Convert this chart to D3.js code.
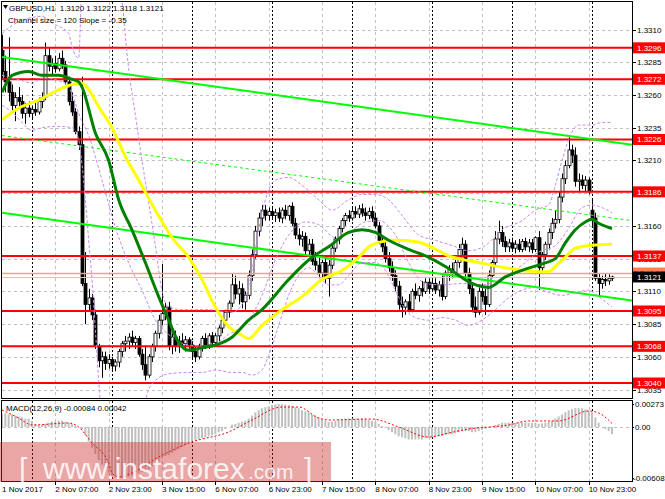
<!DOCTYPE html>
<html><head><meta charset="utf-8">
<script src="https://cdn.jsdelivr.net/npm/d3@7"></script>
<style>body{margin:0;background:#fff}svg{display:block}text{font-family:'Liberation Sans',Arial,sans-serif}</style>
</head><body><svg id="c" width="665" height="499"></svg>
<script>
// ---------------- DATA ----------------
const symbolTitle = "GBPUSD,H1";
const lastQuote = ["1.3120", "1.3122", "1.3118", "1.3121"];
const channelText = "Channel size = 120 Slope = -0.35";
const macdTitle = "MACD(12,26,9) -0.00084 0.00042";

const opens = [
1.3294,1.3278,1.3270,1.3262,1.3252,1.3258,1.3255,1.3246,1.3250,1.3246,
1.3249,1.3247,1.3255,1.3258,1.3290,1.3282,1.3284,1.3280,1.3288,1.3283,
1.3270,1.3255,1.3247,1.3232,1.3222,1.3116,1.3100,1.3105,1.3092,1.3068,
1.3057,1.3060,1.3055,1.3058,1.3053,1.3056,1.3064,1.3070,1.3072,1.3075,
1.3071,1.3074,1.3062,1.3054,1.3046,1.3060,1.3068,1.3078,1.3088,1.3093,
1.3098,1.3068,1.3075,1.3068,1.3072,1.3070,1.3073,1.3069,1.3064,1.3060,
1.3067,1.3074,1.3069,1.3076,1.3071,1.3076,1.3082,1.3088,1.3094,1.3101,
1.3115,1.3108,1.3112,1.3102,1.3107,1.3122,1.3138,1.3156,1.3166,1.3172,
1.3168,1.3171,1.3168,1.3170,1.3166,1.3172,1.3168,1.3175,1.3162,1.3153,
1.3150,1.3152,1.3141,1.3146,1.3133,1.3130,1.3124,1.3132,1.3120,1.3130,
1.3143,1.3150,1.3158,1.3164,1.3168,1.3166,1.3171,1.3169,1.3173,1.3170,
1.3168,1.3171,1.3166,1.3160,1.3149,1.3144,1.3135,1.3128,1.3122,1.3114,
1.3100,1.3098,1.3102,1.3096,1.3110,1.3107,1.3112,1.3110,1.3117,1.3112,
1.3116,1.3111,1.3115,1.3106,1.3124,1.3127,1.3124,1.3132,1.3142,1.3146,
1.3124,1.3112,1.3098,1.3094,1.3110,1.3106,1.3100,1.3122,1.3132,1.3150,
1.3155,1.3148,1.3144,1.3147,1.3143,1.3146,1.3142,1.3148,1.3144,1.3147,
1.3142,1.3151,1.3128,1.3138,1.3146,1.3155,1.3162,1.3165,1.3182,1.3196,
1.3206,1.3218,1.3214,1.3194,1.3195,1.3191,1.3195,1.3172,1.3166,1.3120,
1.3116,1.3119,1.3118,1.3120];
const highs = [
1.3306,1.3290,1.3304,1.3268,1.3262,1.3266,1.3260,1.3254,1.3255,1.3252,
1.3254,1.3258,1.3262,1.3300,1.3296,1.3288,1.3290,1.3292,1.3294,1.3286,
1.3274,1.3262,1.3250,1.3236,1.3274,1.3140,1.3112,1.3108,1.3096,1.3070,
1.3064,1.3064,1.3062,1.3060,1.3058,1.3066,1.3072,1.3076,1.3078,1.3080,
1.3076,1.3076,1.3066,1.3068,1.3062,1.3070,1.3080,1.3092,1.3131,1.3101,
1.3102,1.3078,1.3080,1.3076,1.3078,1.3076,1.3075,1.3072,1.3068,1.3070,
1.3076,1.3078,1.3078,1.3079,1.3078,1.3084,1.3090,1.3096,1.3103,1.3124,
1.3122,1.3118,1.3116,1.3110,1.3126,1.3142,1.3160,1.3170,1.3176,1.3176,
1.3174,1.3175,1.3173,1.3174,1.3174,1.3176,1.3176,1.3178,1.3166,1.3158,
1.3156,1.3155,1.3150,1.3150,1.3140,1.3136,1.3134,1.3136,1.3134,1.3146,
1.3152,1.3160,1.3166,1.3170,1.3172,1.3174,1.3175,1.3176,1.3177,1.3174,
1.3174,1.3175,1.3170,1.3163,1.3153,1.3148,1.3140,1.3133,1.3126,1.3118,
1.3106,1.3104,1.3108,1.3112,1.3116,1.3114,1.3118,1.3120,1.3120,1.3119,
1.3120,1.3118,1.3122,1.3126,1.3130,1.3132,1.3134,1.3146,1.3151,1.3149,
1.3128,1.3116,1.3106,1.3113,1.3116,1.3112,1.3126,1.3134,1.3156,1.3164,
1.3160,1.3152,1.3150,1.3151,1.3149,1.3150,1.3150,1.3151,1.3150,1.3150,
1.3152,1.3156,1.3140,1.3148,1.3158,1.3166,1.3172,1.3186,1.3200,1.3210,
1.3229,1.3222,1.3220,1.3200,1.3199,1.3198,1.3197,1.3180,1.3170,1.3124,
1.3122,1.3124,1.3123,1.3122];
const lows = [
1.3272,1.3262,1.3255,1.3248,1.3240,1.3250,1.3242,1.3238,1.3243,1.3242,
1.3244,1.3245,1.3250,1.3256,1.3278,1.3276,1.3277,1.3278,1.3280,1.3268,
1.3252,1.3244,1.3230,1.3218,1.3114,1.3085,1.3095,1.3088,1.3066,1.3052,
1.3044,1.3050,1.3051,1.3050,1.3049,1.3052,1.3060,1.3064,1.3066,1.3068,
1.3066,1.3060,1.3050,1.3042,1.3044,1.3056,1.3064,1.3074,1.3084,1.3088,
1.3065,1.3062,1.3064,1.3063,1.3066,1.3064,1.3066,1.3058,1.3056,1.3058,
1.3064,1.3066,1.3066,1.3068,1.3069,1.3072,1.3078,1.3084,1.3090,1.3098,
1.3104,1.3100,1.3097,1.3096,1.3104,1.3118,1.3135,1.3152,1.3160,1.3164,
1.3164,1.3165,1.3163,1.3163,1.3162,1.3165,1.3164,1.3160,1.3150,1.3145,
1.3144,1.3138,1.3137,1.3130,1.3126,1.3120,1.3118,1.3116,1.3106,1.3127,
1.3140,1.3146,1.3155,1.3160,1.3163,1.3164,1.3166,1.3166,1.3167,1.3164,
1.3165,1.3163,1.3158,1.3146,1.3140,1.3132,1.3125,1.3118,1.3110,1.3096,
1.3090,1.3092,1.3094,1.3094,1.3104,1.3102,1.3106,1.3108,1.3108,1.3110,
1.3108,1.3106,1.3103,1.3104,1.3118,1.3120,1.3122,1.3128,1.3136,1.3120,
1.3108,1.3094,1.3090,1.3092,1.3102,1.3092,1.3098,1.3120,1.3130,1.3146,
1.3144,1.3140,1.3140,1.3140,1.3139,1.3140,1.3140,1.3141,1.3140,1.3139,
1.3140,1.3111,1.3124,1.3134,1.3142,1.3150,1.3158,1.3162,1.3178,1.3192,
1.3204,1.3208,1.3190,1.3186,1.3188,1.3186,1.3184,1.3160,1.3118,1.3106,
1.3112,1.3114,1.3115,1.3118];
const closes = [
1.3278,1.3270,1.3262,1.3252,1.3258,1.3255,1.3246,1.3250,1.3246,1.3249,
1.3247,1.3255,1.3258,1.3290,1.3282,1.3284,1.3280,1.3288,1.3283,1.3270,
1.3255,1.3247,1.3232,1.3222,1.3116,1.3100,1.3105,1.3092,1.3068,1.3057,
1.3060,1.3055,1.3058,1.3053,1.3056,1.3064,1.3070,1.3072,1.3075,1.3071,
1.3074,1.3062,1.3054,1.3046,1.3060,1.3068,1.3078,1.3088,1.3093,1.3098,
1.3068,1.3075,1.3068,1.3072,1.3070,1.3073,1.3069,1.3064,1.3060,1.3067,
1.3074,1.3069,1.3076,1.3071,1.3076,1.3082,1.3088,1.3094,1.3101,1.3115,
1.3108,1.3112,1.3102,1.3107,1.3122,1.3138,1.3156,1.3166,1.3172,1.3168,
1.3171,1.3168,1.3170,1.3166,1.3172,1.3168,1.3175,1.3162,1.3153,1.3150,
1.3152,1.3141,1.3146,1.3133,1.3130,1.3124,1.3132,1.3120,1.3130,1.3143,
1.3150,1.3158,1.3164,1.3168,1.3166,1.3171,1.3169,1.3173,1.3170,1.3168,
1.3171,1.3166,1.3160,1.3149,1.3144,1.3135,1.3128,1.3122,1.3114,1.3100,
1.3098,1.3102,1.3096,1.3110,1.3107,1.3112,1.3110,1.3117,1.3112,1.3116,
1.3111,1.3115,1.3106,1.3124,1.3127,1.3124,1.3132,1.3142,1.3146,1.3124,
1.3112,1.3098,1.3094,1.3110,1.3106,1.3100,1.3122,1.3132,1.3150,1.3155,
1.3148,1.3144,1.3147,1.3143,1.3146,1.3142,1.3148,1.3144,1.3147,1.3142,
1.3151,1.3128,1.3138,1.3146,1.3155,1.3162,1.3165,1.3182,1.3196,1.3206,
1.3218,1.3214,1.3194,1.3195,1.3191,1.3195,1.3186,1.3166,1.3120,1.3116,
1.3119,1.3118,1.3120,1.3121];

// time axis: bar index of each label, and label text
const timeLabelBars = [0,16,32,48,64,80,96,112,128,144,160,176];
const timeLabels = ["1 Nov 2017","2 Nov 07:00","2 Nov 23:00","3 Nov 15:00","6 Nov 07:00","6 Nov 23:00",
  "7 Nov 15:00","8 Nov 07:00","8 Nov 23:00","9 Nov 15:00","10 Nov 07:00","10 Nov 23:00"];
const daySeparatorBars = [9,33,57,81,105,129,153,177];

// price axis
const priceTicks = [1.3310,1.3285,1.3260,1.3235,1.3210,1.3185,1.3160,1.3135,1.3110,1.3085,1.3060,1.3035];
const levels = [1.3296,1.3272,1.3226,1.3186,1.3137,1.3095,1.3068,1.3040];
const bidPrice = 1.3121;
const askPrice = 1.3124;

// regression channel (bar index, price)
const channelUpper = [[0,1.3289],[189,1.3222]];
const channelMid   = [[0,1.3229],[189,1.3164]];
const channelLower = [[0,1.3170],[189,1.3103]];

// moving averages (bar index, price)
const maFast = [[0,1.3262],[3,1.3275],[8,1.3278],[12,1.3275],[17,1.3275],[21,1.3272],[23,1.3270],[24,1.3266],
 [28,1.3231],[32,1.3210],[35,1.3180],[39,1.3157],[43,1.3132],[47,1.3106],[50,1.3088],[53,1.3071],[56,1.3065],
 [60,1.3067],[64,1.3069],[69,1.3075],[74,1.3088],[78,1.3096],[86,1.3119],[93,1.3136],[98,1.3144],[104,1.3155],
 [108,1.3157],[112,1.3155],[116,1.3149],[122,1.3142],[128,1.3136],[133,1.3129],[136,1.3124],[141,1.3116],
 [146,1.3113],[151,1.3121],[156,1.3126],[162,1.3131],[166,1.3135],[169,1.3147],[172,1.3157],[175,1.3163],
 [177,1.3165],[179,1.3162],[183,1.3158]];
const maSlow = [[0,1.3241],[5,1.3250],[11,1.3256],[17,1.3264],[21,1.3268],[24,1.3269],[26,1.3264],[29,1.3251],
 [33,1.3235],[37,1.3213],[41,1.3195],[46,1.3172],[51,1.3151],[56,1.3136],[60,1.3119],[64,1.3098],[68,1.3083],
 [71,1.3078],[74,1.3074],[78,1.3084],[84,1.3096],[90,1.3106],[96,1.3119],[102,1.3126],[107,1.3136],[110,1.3144],
 [114,1.3148],[118,1.3149],[124,1.3148],[131,1.3141],[134,1.3137],[137,1.3135],[143,1.3132],[151,1.3128],
 [161,1.3125],[164,1.3125],[166,1.3129],[169,1.3136],[172,1.3143],[176,1.3145],[183,1.3146]];

// envelope bands (bar index, price)
const bandUpper = [[0,1.3307],[3,1.3313],[6,1.3317],[12,1.3320],[15,1.3315],[20,1.3307],[21,1.3297],[23,1.3288],
 [24,1.3345],[30,1.3380],[35,1.3345],[36,1.3333],[37,1.3305],[38,1.3280],[40,1.3245],[42,1.3210],[44,1.3178],
 [46,1.3145],[48,1.3110],[50,1.3098],[54,1.3096],[62,1.3096],[69,1.3094],[72,1.3100],[75,1.3126],[77,1.3157],
 [79,1.3180],[82,1.3195],[86,1.3197],[90,1.3191],[95,1.3180],[99,1.3172],[104,1.3180],[108,1.3184],[112,1.3184],
 [116,1.3180],[120,1.3168],[125,1.3153],[130,1.3149],[135,1.3145],[140,1.3141],[145,1.3145],[150,1.3157],
 [156,1.3164],[160,1.3172],[164,1.3176],[166,1.3191],[168,1.3210],[170,1.3226],[173,1.3237],[177,1.3237],
 [180,1.3239],[183,1.3239]];
const bandMid = [[0,1.3275],[6,1.3271],[9,1.3269],[12,1.3273],[19,1.3269],[21,1.3261],[23,1.3246],[26,1.3229],
 [30,1.3195],[34,1.3159],[39,1.3126],[42,1.3111],[46,1.3088],[50,1.3077],[56,1.3069],[62,1.3068],[68,1.3077],
 [74,1.3088],[78,1.3107],[82,1.3134],[86,1.3153],[91,1.3163],[95,1.3161],[100,1.3151],[104,1.3155],[109,1.3163],
 [113,1.3164],[118,1.3153],[122,1.3132],[127,1.3116],[132,1.3115],[138,1.3116],[144,1.3115],[150,1.3120],
 [156,1.3130],[161,1.3140],[166,1.3145],[170,1.3158],[174,1.3174],[177,1.3176],[180,1.3174],[183,1.3170]];
const bandLower = [[0,1.3252],[3,1.3247],[6,1.3239],[9,1.3233],[12,1.3235],[17,1.3236],[21,1.3235],[23,1.3226],
 [24,1.3207],[25,1.3180],[26,1.3149],[27,1.3119],[28,1.3081],[29,1.3042],[30,1.3012],[40,1.3004],[43,1.3027],
 [44,1.3035],[46,1.3042],[50,1.3047],[55,1.3048],[60,1.3048],[64,1.3050],[69,1.3048],[72,1.3048],[75,1.3046],
 [78,1.3050],[80,1.3061],[83,1.3084],[86,1.3107],[89,1.3122],[92,1.3128],[95,1.3122],[98,1.3115],[101,1.3115],
 [104,1.3122],[108,1.3132],[112,1.3132],[115,1.3126],[118,1.3111],[121,1.3096],[124,1.3090],[128,1.3088],
 [132,1.3090],[136,1.3088],[140,1.3084],[144,1.3088],[148,1.3096],[152,1.3105],[156,1.3111],[160,1.3113],
 [164,1.3109],[168,1.3107],[172,1.3109],[176,1.3111],[179,1.3106],[183,1.3098]];

// MACD
const macdHist = [
0.00161,0.00161,0.00149,0.00149,0.00136,0.00124,0.00112,0.00099,0.00099,
0.00074,0.00037,0.00025,0.00025,
0.00037,0.00050,0.00062,0.00062,0.00074,0.00074,0.00062,0.00050,0.00037,
0.00012,0.00002,
-0.00025,-0.00099,-0.00174,-0.00248,-0.00322,-0.00397,-0.00446,-0.00496,-0.00546,
-0.00580,-0.00596,-0.00605,-0.00608,-0.00604,-0.00594,-0.00580,
-0.00565,-0.00550,-0.00535,-0.00525,-0.00508,-0.00471,-0.00446,-0.00409,
-0.00372,-0.00347,-0.00335,-0.00310,-0.00285,-0.00260,-0.00236,-0.00211,-0.00186,
-0.00174,-0.00161,-0.00149,-0.00136,-0.00124,-0.00112,-0.00099,-0.00087,-0.00062,-0.00050,-0.00025,
0.00003,0.00025,0.00037,0.00050,0.00062,0.00074,0.00099,0.00136,0.00174,0.00198,0.00223,0.00236,0.00248,
0.00260,0.00268,0.00273,0.00270,0.00265,0.00258,
0.00248,0.00236,0.00223,0.00198,0.00186,0.00174,0.00149,0.00136,0.00112,0.00099,0.00074,0.00062,
0.00062,0.00074,0.00087,0.00087,0.00099,0.00099,0.00099,0.00099,0.00099,0.00099,0.00099,0.00087,0.00074,
0.00062,0.00037,0.00012,-0.00012,-0.00037,-0.00062,-0.00087,-0.00112,
-0.00124,-0.00136,-0.00149,-0.00149,-0.00149,-0.00149,-0.00149,-0.00136,-0.00136,
-0.00124,-0.00124,-0.00112,-0.00112,-0.00099,-0.00087,-0.00087,-0.00074,-0.00062,
-0.00050,-0.00050,-0.00050,-0.00062,-0.00062,-0.00050,-0.00037,-0.00025,-0.00012,0.00002,
0.00025,0.00037,0.00050,0.00050,0.00052,0.00050,0.00048,0.00050,0.00052,0.00050,0.00049,0.00050,0.00051,
0.00037,0.00040,0.00050,0.00062,0.00074,0.00099,0.00124,0.00149,0.00174,0.00198,0.00211,0.00223,0.00225,0.00222,0.00211,0.00198,
0.00174,0.00112,0.00050,0.00000,-0.00025,-0.00050,-0.00084];
const macdSignal = [[0,0.00202],[5,0.00106],[9,0.00023],[20,0.00047],[23,-0.00001],[27,-0.00191],[32,-0.00429],
 [33,-0.00548],[35,-0.00596],[39,-0.00548],[47,-0.00358],[57,-0.00179],[68,-0.00060],[75,0.00083],[84,0.00237],
 [89,0.00237],[95,0.00106],[98,0.00083],[111,0.00094],[119,-0.00001],[128,-0.00120],[134,-0.00072],[140,-0.00025],
 [152,0.00023],[158,0.00071],[167,0.00071],[176,0.00190],[179,0.00166],[183,0.00042]];
const macdTicks = [0.00273, 0.00, -0.00608];
const macdTickLabels = ["0.00273", "0.00", "-0.00608"];

// ---------------- DRAWING ----------------
const svg = d3.select("#c");
const L = 2, R = 632;
const x = d3.scaleLinear().domain([0,183]).range([2,612]);
const y = d3.scaleLinear().domain([1.3040,1.3310]).range([383,29.5]);
const ym = d3.scaleLinear().domain([-0.00608,0.00273]).range([478,404]);
const crisp = v => Math.round(v) + 0.5;

svg.append("rect").attr("width",665).attr("height",499).attr("fill","#fff");
const defs = svg.append("defs");
defs.append("clipPath").attr("id","cm").append("rect").attr("x",2).attr("y",2).attr("width",630).attr("height",396);
defs.append("clipPath").attr("id","cd").append("rect").attr("x",2).attr("y",401).attr("width",630).attr("height",80);

const gMain = svg.append("g").attr("clip-path","url(#cm)");
const gMacd = svg.append("g").attr("clip-path","url(#cd)");

// horizontal grid
gMain.selectAll(".hg").data(priceTicks).join("line")
  .attr("x1",L).attr("x2",R).attr("y1",d=>crisp(y(d))).attr("y2",d=>crisp(y(d)))
  .attr("stroke","#c0c0c0").attr("stroke-dasharray","3,3");
gMacd.append("line").attr("x1",L).attr("x2",R).attr("y1",crisp(ym(0))).attr("y2",crisp(ym(0)))
  .attr("stroke","#c0c0c0").attr("stroke-dasharray","3,3");

// vertical grid at time labels, black dotted day separators
[gMain, gMacd].forEach((g,k)=>{
  g.selectAll(".vg").data(timeLabelBars.slice(1)).join("line")
    .attr("x1",d=>crisp(x(d))).attr("x2",d=>crisp(x(d)))
    .attr("y1",k?401:2).attr("y2",k?481:398)
    .attr("stroke","#c0c0c0").attr("stroke-dasharray","3,3");
  g.selectAll(".ds").data(daySeparatorBars).join("line")
    .attr("x1",d=>crisp(x(d))).attr("x2",d=>crisp(x(d)))
    .attr("y1",k?401:2).attr("y2",k?481:398)
    .attr("stroke","#000").attr("stroke-dasharray","2,2");
});

// candles
const bars = opens.map((o,i)=>({i,o,h:highs[i],l:lows[i],c:closes[i]}));
gMain.selectAll(".wk").data(bars).join("line")
  .attr("x1",d=>crisp(x(d.i))).attr("x2",d=>crisp(x(d.i)))
  .attr("y1",d=>y(d.h)).attr("y2",d=>y(d.l)).attr("stroke","#000").attr("stroke-width",1);
gMain.selectAll(".bd").data(bars).join("rect")
  .attr("x",d=>Math.round(x(d.i))-1).attr("width",3)
  .attr("y",d=>y(Math.max(d.o,d.c))).attr("height",d=>Math.max(1,Math.abs(y(d.o)-y(d.c))))
  .attr("fill",d=>d.c>=d.o?"#fff":"#000").attr("stroke","#000").attr("stroke-width",0.8);

// support / resistance levels
gMain.selectAll(".lv").data(levels).join("line")
  .attr("x1",L).attr("x2",R).attr("y1",d=>y(d)).attr("y2",d=>y(d))
  .attr("stroke","#ff0000").attr("stroke-width",2);

// bid / ask lines
gMain.append("line").attr("x1",L).attr("x2",R).attr("y1",crisp(y(askPrice))).attr("y2",crisp(y(askPrice)))
  .attr("stroke","#ffa07a").attr("stroke-width",1.5);
gMain.append("line").attr("x1",L).attr("x2",R).attr("y1",crisp(y(bidPrice))).attr("y2",crisp(y(bidPrice)))
  .attr("stroke","#c8c8c8").attr("stroke-width",1);

const xL = d3.scaleLinear().domain([0,189]).range([2,632]);
const lineP = d3.line().x(d=>xL(d[0])).y(d=>y(d[1]));
// channel
gMain.append("path").attr("d",lineP(channelUpper)).attr("stroke","#00ff00").attr("stroke-width",2).attr("fill","none");
gMain.append("path").attr("d",lineP(channelLower)).attr("stroke","#00ff00").attr("stroke-width",2).attr("fill","none");
gMain.append("path").attr("d",lineP(channelMid)).attr("stroke","#00ff00").attr("stroke-width",1).attr("stroke-dasharray","3,3").attr("fill","none");

// bands
const lineC = d3.line().x(d=>x(d[0])).y(d=>y(d[1])).curve(d3.curveMonotoneX);
[bandUpper,bandMid,bandLower].forEach(b=>{
  gMain.append("path").attr("d",lineC(b)).attr("fill","none")
    .attr("stroke","#cc88ee").attr("stroke-width",1).attr("stroke-dasharray","3,2");
});
// moving averages
gMain.append("path").attr("d",lineC(maSlow)).attr("fill","none").attr("stroke","#ffff00").attr("stroke-width",3);
gMain.append("path").attr("d",lineC(maFast)).attr("fill","none").attr("stroke","#008000").attr("stroke-width",3);

// MACD
gMacd.selectAll(".mh").data(macdHist).join("line")
  .attr("x1",(d,i)=>x(i)).attr("x2",(d,i)=>x(i))
  .attr("y1",ym(0)).attr("y2",d=>ym(d)).attr("stroke","#c0c0c0").attr("stroke-width",2);
gMacd.append("path").attr("d",d3.line().x(d=>x(d[0])).y(d=>ym(d[1])).curve(d3.curveMonotoneX)(macdSignal))
  .attr("fill","none").attr("stroke","#ff0000").attr("stroke-width",1).attr("stroke-dasharray","2,2");

// frames
svg.append("rect").attr("x",1.5).attr("y",1.5).attr("width",631).attr("height",397)
  .attr("fill","none").attr("stroke","#000");
svg.append("rect").attr("x",1.5).attr("y",400.5).attr("width",631).attr("height",81)
  .attr("fill","none").attr("stroke","#000");

// titles
svg.append("path").attr("d","M3,5L8,5L5.5,9Z").attr("fill","#000");
svg.append("text").attr("x",9).attr("y",11).attr("font-size",8).attr("fill","#000")
  .style("white-space","pre").text(symbolTitle + "  " + lastQuote.join(" "));
svg.append("text").attr("x",8).attr("y",22.5).attr("font-size",8).attr("fill","#000").text(channelText);
svg.append("text").attr("x",6).attr("y",411).attr("font-size",8).attr("fill","#000").text(macdTitle);

// price axis labels
const ax = svg.append("g");
ax.selectAll(".pt").data(priceTicks).join("line")
  .attr("x1",632).attr("x2",636).attr("y1",d=>crisp(y(d))).attr("y2",d=>crisp(y(d))).attr("stroke","#000");
ax.selectAll(".pl").data(priceTicks).join("text")
  .attr("x",637).attr("y",d=>y(d)+3).attr("font-size",8).attr("fill","#000").text(d=>d.toFixed(4));
function box(p, fill, col) {
  ax.append("rect").attr("x",633).attr("y",y(p)-5.5).attr("width",32).attr("height",11).attr("fill",fill);
  ax.append("text").attr("x",637).attr("y",y(p)+3).attr("font-size",8).attr("fill",col).text(p.toFixed(4));
}
levels.forEach(p=>box(p,"#ff0000","#fff"));
box(askPrice,"#ff7f50","#fff");
box(bidPrice,"#000","#fff");
// macd axis
ax.selectAll(".ml").data(macdTicks).join("text")
  .attr("x",d=> d<0 ? 633 : 635).attr("y",d=>ym(d)+3).attr("font-size",8).attr("fill","#000")
  .text((d,i)=>macdTickLabels[i]);
ax.selectAll(".mt").data(macdTicks).join("line")
  .attr("x1",632).attr("x2",634).attr("y1",d=>crisp(ym(d))).attr("y2",d=>crisp(ym(d))).attr("stroke","#000");

// time axis
ax.selectAll(".tl").data(timeLabelBars).join("text")
  .attr("x",(d,i)=> i===0 ? 2 : x(d)).attr("y",492).attr("font-size",8).attr("fill","#000")
  .text((d,i)=>timeLabels[i]);
ax.selectAll(".tt").data(timeLabelBars.slice(1)).join("line")
  .attr("x1",d=>crisp(x(d))).attr("x2",d=>crisp(x(d))).attr("y1",482).attr("y2",485).attr("stroke","#000");

// watermark
const wm = svg.append("g");
wm.append("rect").attr("x",0).attr("y",442).attr("width",331).attr("height",40).attr("fill","rgba(205,40,40,0.42)");
wm.append("text").attr("x",19).attr("y",479).attr("font-size",30).attr("fill","#fff").attr("fill-opacity",0.85).text("[");
wm.append("text").attr("x",43).attr("y",479).attr("font-size",30).attr("fill","#fff").attr("fill-opacity",0.85).text("www.instaforex");
wm.append("text").attr("x",248).attr("y",479).attr("font-size",21).attr("fill","#fff").attr("fill-opacity",0.85).text(".com");
wm.append("text").attr("x",304).attr("y",479).attr("font-size",30).attr("fill","#fff").attr("fill-opacity",0.85).text("]");
</script></body></html>
